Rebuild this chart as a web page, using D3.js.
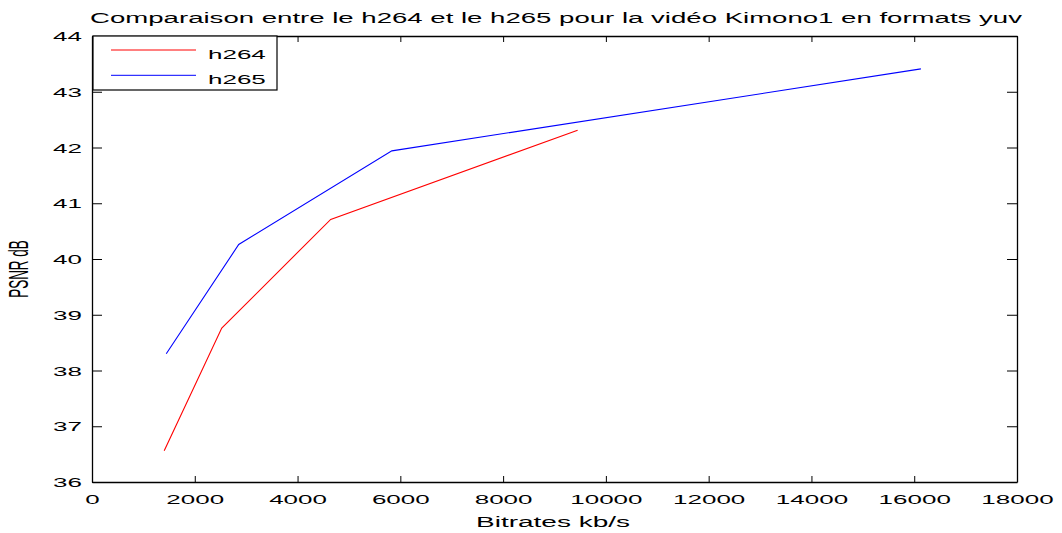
<!DOCTYPE html>
<html>
<head>
<meta charset="utf-8">
<script src="https://cdn.jsdelivr.net/npm/d3@7"></script>
<style>
  html, body { margin: 0; padding: 0; background: #fff; }
  svg { display: block; }
  text { font-family: "Liberation Sans", Arial, Helvetica, sans-serif; fill: #000; }
</style>
</head>
<body>
<svg id="chart" width="1062" height="533"></svg>
<script>
// Bitrate (kb/s) and PSNR (dB) measurements for each encoder
const h264Bitrate = [1405, 2525, 4645, 9450];
const h264Psnr    = [36.56, 38.76, 40.71, 42.31];
const h265Bitrate = [1445, 2855, 5835, 16130];
const h265Psnr    = [38.30, 40.26, 41.94, 43.41];

const xTicks = [0, 2000, 4000, 6000, 8000, 10000, 12000, 14000, 16000, 18000];
const yTicks = [36, 37, 38, 39, 40, 41, 42, 43, 44];

const titleText  = "Comparaison entre le h264 et le h265 pour la vidéo Kimono1 en formats yuv";
const xLabelText = "Bitrates kb/s";
const yLabelText = "PSNR dB";
const seriesNames = ["h264", "h265"];
const seriesColors = ["#ff0000", "#0000ff"];

const plot = { left: 92, right: 1017, top: 36, bottom: 482 };
const SX = 2;          // horizontal stretch of the lettering
const FS = 13;         // font size

const svg = d3.select("#chart");

const x = d3.scaleLinear().domain([0, 18000]).range([plot.left, plot.right]);
const y = d3.scaleLinear().domain([36, 44]).range([plot.bottom, plot.top]);

// Axis frame with inward ticks on all four sides
const stretch = sel => sel.attr("transform", `scale(${SX},1)`);

const gBottom = svg.append("g").attr("transform", `translate(0,${plot.bottom})`)
  .call(d3.axisBottom(x).tickValues(xTicks).tickSizeInner(-6).tickSizeOuter(0).tickFormat(d3.format("d")));
gBottom.selectAll("text").attr("y", 22).attr("dy", 0).attr("font-size", FS).call(stretch);

svg.append("g").attr("transform", `translate(0,${plot.top})`)
  .call(d3.axisTop(x).tickValues(xTicks).tickSizeInner(-6).tickSizeOuter(0).tickFormat(""));

const gLeft = svg.append("g").attr("transform", `translate(${plot.left},0)`)
  .call(d3.axisLeft(y).tickValues(yTicks).tickSizeInner(-10).tickSizeOuter(0).tickFormat(d3.format("d")));
gLeft.selectAll("text").attr("x", -5).attr("dy", 4.5).attr("font-size", FS).call(stretch);

svg.append("g").attr("transform", `translate(${plot.right},0)`)
  .call(d3.axisRight(y).tickValues(yTicks).tickSizeInner(-10).tickSizeOuter(0).tickFormat(""));

svg.selectAll(".domain").attr("stroke", "#000").attr("stroke-width", 1.3);
svg.selectAll(".tick line").attr("stroke", "#000").attr("stroke-width", 1);
svg.selectAll(".tick text").attr("fill", "#000").attr("font-family", null);

// Data lines
const line = d3.line().x(d => x(d[0])).y(d => y(d[1]));
const series = [
  d3.zip(h264Bitrate, h264Psnr),
  d3.zip(h265Bitrate, h265Psnr)
];
svg.append("g").selectAll("path").data(series).join("path")
  .attr("d", line)
  .attr("fill", "none")
  .attr("stroke", (d, i) => seriesColors[i])
  .attr("stroke-width", 1.1);

// Title and axis labels
function label(txt, px, py, size, rot) {
  svg.append("text")
    .attr("transform", `translate(${px},${py}) scale(${SX},1)` + (rot ? ` rotate(${rot})` : ""))
    .attr("text-anchor", "middle")
    .attr("font-size", size)
    .text(txt);
}
label(titleText, 556, 23, 13.8);
label(xLabelText, 553, 527, 14);
label(yLabelText, 28, 269, 13.5, -90);

// Legend
const lg = svg.append("g");
lg.append("rect").attr("x", 93).attr("y", 36).attr("width", 184).attr("height", 54)
  .attr("fill", "#fff").attr("stroke", "#000").attr("stroke-width", 1.2);
seriesNames.forEach((name, i) => {
  const ly = 50 + i * 25.3;
  lg.append("line").attr("x1", 111).attr("x2", 196).attr("y1", ly).attr("y2", ly)
    .attr("stroke", seriesColors[i]).attr("stroke-width", 1);
  lg.append("text")
    .attr("transform", `translate(208,${ly + 9}) scale(${SX},1)`)
    .attr("font-size", FS)
    .text(name);
});
</script>
</body>
</html>
